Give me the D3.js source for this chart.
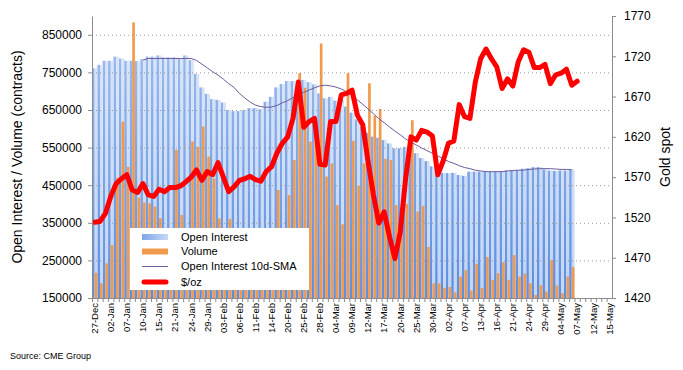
<!DOCTYPE html>
<html>

<head>
    <meta charset="utf-8" />
    <title>Gold open interest, volume and spot</title>
    <script src="https://cdn.jsdelivr.net/npm/d3@7/dist/d3.min.js" charset="utf-8"></script>

    <style type="text/css">
        body {
            margin: 0;
            background: #fff;
        }

        #chart svg {
            font-family: "Liberation Sans", Arial, sans-serif;
        }

        #chart .axis path,
        #chart .axis line {
            stroke: #8c8c8c;
        }

        #chart .grid line {
            stroke: #9a9a9a;
            stroke-dasharray: 1, 3;
        }

        #chart .sma {
            fill: none;
            stroke: #6d5c9e;
            stroke-width: 1px;
        }

        #chart .price {
            fill: none;
            stroke: #ff0000;
            stroke-width: 5px;
            stroke-linejoin: round;
            stroke-linecap: round;
        }
    </style>
</head>

<body>

    <div id="chart"></div>

    <script>
        // Trading days on the x axis:
        var dates = ["27-Dec", "30-Dec", "31-Dec",
            "02-Jan", "03-Jan", "06-Jan", "07-Jan", "08-Jan", "09-Jan", "10-Jan", "13-Jan", "14-Jan", "15-Jan",
            "16-Jan", "17-Jan", "21-Jan", "22-Jan", "23-Jan", "24-Jan", "27-Jan", "28-Jan", "29-Jan", "30-Jan", "31-Jan",
            "03-Feb", "04-Feb", "05-Feb", "06-Feb", "07-Feb", "10-Feb", "11-Feb", "12-Feb", "13-Feb", "14-Feb",
            "18-Feb", "19-Feb", "20-Feb", "21-Feb", "24-Feb", "25-Feb", "26-Feb", "27-Feb", "28-Feb",
            "02-Mar", "03-Mar", "04-Mar", "05-Mar", "06-Mar", "09-Mar", "10-Mar", "11-Mar", "12-Mar", "13-Mar",
            "16-Mar", "17-Mar", "18-Mar", "19-Mar", "20-Mar", "23-Mar", "24-Mar", "25-Mar", "26-Mar", "27-Mar",
            "30-Mar", "31-Mar", "01-Apr", "02-Apr", "03-Apr", "06-Apr", "07-Apr", "08-Apr", "09-Apr",
            "13-Apr", "14-Apr", "15-Apr", "16-Apr", "17-Apr", "20-Apr", "21-Apr", "22-Apr", "23-Apr", "24-Apr",
            "27-Apr", "28-Apr", "29-Apr", "30-Apr", "01-May", "04-May", "05-May", "06-May", "07-May",
            "08-May", "11-May", "12-May", "13-May", "14-May", "15-May"
        ]

        // Open interest (contracts), from 27-Dec:
        var openInterest = [761000, 770000, 781000, 781000, 792000, 787000, 781000, 781000, 780000, 785000,
            792000, 792000, 795000, 790000, 790000, 790000, 786000, 795000, 783000, 746000,
            710000, 693000, 679000, 677000, 670000, 650000, 647000, 647000, 650000, 655000,
            655000, 652000, 672000, 685000, 710000, 719000, 727000, 727000, 728000, 730000,
            724000, 718000, 694000, 681000, 685000, 675000, 677000, 659000, 643000, 625000,
            605000, 589000, 579000, 576000, 570000, 561000, 548000, 548000, 552000, 545000,
            535000, 522000, 514000, 500000, 488000, 483000, 482000, 483000, 477000, 475000,
            486000, 486000, 486000, 486000, 486000, 486000, 487000, 489000, 489000, 490000,
            494000, 495000, 498000, 498000, 492000, 489000, 488000, 489000, 489000, 492000
        ]

        // Volume (contracts), from 27-Dec:
        var volume = [217000, 189000, 242000, 291000, 470000, 619000, 499000, 883000, 417000, 404000,
            402000, 393000, 362000, 330000, 300000, 544000, 371000, 300000, 566000, 552000,
            606000, 526000, 468000, 362000, 310000, 360000, 290000, 280000, 300000, 270000,
            290000, 300000, 280000, 320000, 437000, 320000, 424000, 517000, 748000, 709000,
            566000, 619000, 827000, 473000, 508000, 397000, 346000, 748000, 568000, 449000,
            508000, 721000, 635000, 653000, 520000, 517000, 397000, 330000, 400000, 623000,
            380000, 395000, 286000, 189000, 189000, 177000, 179000, 165000, 207000, 224000,
            170000, 241000, 177000, 259000, 198000, 216000, 245000, 198000, 264000, 207000,
            215000, 189000, 158000, 184000, 167000, 251000, 183000, 163000, 207000, 232000
        ]

        // Open interest 10d-SMA, from 09-Jan (10th day):
        var smaStart = 9
        var sma = [783000, 787000, 787000, 787000, 787000, 787000, 787000, 787000, 787000, 787000,
            782000, 772000, 762000, 752000, 743000, 732000, 720000, 710000, 694000, 682000,
            671000, 663000, 659000, 657000, 658000, 662000, 669000, 675000, 683000, 691000,
            697000, 703000, 709000, 714000, 716000, 714000, 711000, 706000, 698000, 689000,
            677000, 665000, 653000, 640000, 627000, 616000, 605000, 594000, 584000, 573000,
            564000, 557000, 549000, 542000, 535000, 528000, 520000, 513000, 508000, 502000,
            497000, 494000, 490000, 488000, 486000, 486000, 486000, 486000, 488000, 489000,
            490000, 490000, 492000, 493000, 494000, 494000, 494000, 493000, 492000, 492000, 491000
        ]

        // Gold spot ($/oz), from 27-Dec:
        var goldSpot = [1514, 1515, 1525, 1546, 1562, 1568, 1573, 1554, 1551, 1562,
            1548, 1546, 1555, 1552, 1557, 1557, 1559, 1564, 1570, 1579,
            1566, 1577, 1573, 1588, 1570, 1552, 1558, 1566, 1568, 1571,
            1567, 1565, 1577, 1583, 1600, 1612, 1620, 1643, 1688, 1632,
            1639, 1643, 1586, 1585, 1639, 1639, 1672, 1674, 1678, 1647,
            1635, 1589, 1548, 1513, 1527, 1496, 1469, 1502, 1568, 1620,
            1616, 1628, 1626, 1621, 1573, 1590, 1612, 1615, 1660, 1645,
            1643, 1688, 1717, 1729, 1717, 1707, 1680, 1692, 1683, 1713,
            1728, 1725, 1706, 1706, 1710, 1686, 1697, 1699, 1704, 1684, 1689
        ]

        // Tick values:
        var leftTicks = [150000, 250000, 350000, 450000, 550000, 650000, 750000, 850000]
        var rightTicks = [1420, 1470, 1520, 1570, 1620, 1670, 1720, 1770]

        // Legend entries:
        var legendItems = ["Open Interest", "Volume", "Open Interest 10d-SMA", "$/oz"]

        // Dimensions:
        var margin = {
                top: 16,
                right: 71,
                bottom: 72,
                left: 92
            },
            totalWidth = 683,
            totalHeight = 370,
            width = totalWidth - margin.left - margin.right,
            height = totalHeight - margin.top - margin.bottom

        // Scales:
        var xScale = d3.scaleBand()
            .domain(dates)
            .range([0, width])
            .padding(0)

        var yLeft = d3.scaleLinear()
            .domain([150000, 900000])
            .range([height, 0])

        var yRight = d3.scaleLinear()
            .domain([1420, 1770])
            .range([height, 0])

        var bw = xScale.bandwidth()

        var svg = d3.select("#chart")
            .append("svg")
            .attr("width", totalWidth)
            .attr("height", totalHeight)

        // Gradients for the open interest columns:
        var defs = svg.append("defs")

        function vGrad(id, top, bottom) {
            var g = defs.append("linearGradient")
                .attr("id", id)
                .attr("gradientUnits", "userSpaceOnUse")
                .attr("x1", 0).attr("y1", 0)
                .attr("x2", 0).attr("y2", height)
            g.append("stop").attr("offset", "0%").attr("stop-color", top)
            g.append("stop").attr("offset", "100%").attr("stop-color", bottom)
        }
        vGrad("oiDark", "#a3c0f0", "#5d8ee0")
        vGrad("oiLight", "#dde8f8", "#c0d5f4")

        var swatchGrad = defs.append("linearGradient").attr("id", "oiSwatch")
        swatchGrad.append("stop").attr("offset", "0%").attr("stop-color", "#7fa6e6")
        swatchGrad.append("stop").attr("offset", "100%").attr("stop-color", "#c6d9f6")

        var chart = svg.append("g")
            .attr("transform", "translate(" + margin.left + "," + margin.top + ")")

        var oiData = openInterest.map(function(v, i) {
            return { date: dates[i], value: v }
        })
        var volData = volume.map(function(v, i) {
            return { date: dates[i], value: v }
        })

        // Open interest columns (dark stripe + light stripe):
        chart.append("g").selectAll("rect")
            .data(oiData)
            .enter().append("rect")
            .attr("x", function(d) { return xScale(d.date) })
            .attr("width", bw / 2)
            .attr("y", function(d) { return yLeft(d.value) })
            .attr("height", function(d) { return height - yLeft(d.value) })
            .attr("fill", "url(#oiDark)")

        chart.append("g").selectAll("rect")
            .data(oiData)
            .enter().append("rect")
            .attr("x", function(d) { return xScale(d.date) + bw / 2 })
            .attr("width", bw / 2)
            .attr("y", function(d) { return yLeft(d.value) })
            .attr("height", function(d) { return height - yLeft(d.value) })
            .attr("fill", "url(#oiLight)")

        // Volume columns:
        chart.append("g").selectAll("rect")
            .data(volData)
            .enter().append("rect")
            .attr("x", function(d) { return xScale(d.date) + bw / 2 })
            .attr("width", bw / 2)
            .attr("y", function(d) { return yLeft(d.value) })
            .attr("height", function(d) { return height - yLeft(d.value) })
            .attr("fill", "#f19a4d")

        // Dotted gridlines:
        chart.append("g")
            .attr("class", "grid")
            .selectAll("line")
            .data(leftTicks.slice(1))
            .enter().append("line")
            .attr("x1", 0)
            .attr("x2", width)
            .attr("y1", function(d) { return yLeft(d) + 0.5 })
            .attr("y2", function(d) { return yLeft(d) + 0.5 })

        // SMA line:
        var smaLine = d3.line()
            .x(function(d, i) { return xScale(dates[i + smaStart]) + bw / 2 })
            .y(function(d) { return yLeft(d) })

        chart.append("path")
            .datum(sma)
            .attr("class", "sma")
            .attr("d", smaLine)

        // Gold spot line:
        var priceLine = d3.line()
            .x(function(d, i) { return xScale(dates[i]) + bw / 2 })
            .y(function(d) { return yRight(d) })

        chart.append("path")
            .datum(goldSpot)
            .attr("class", "price")
            .attr("d", priceLine)

        // Axes:
        var axisLeft = chart.append("g")
            .attr("class", "axis")
            .call(d3.axisLeft(yLeft).tickValues(leftTicks).tickSize(4).tickSizeOuter(0).tickFormat(d3.format("d")))
        axisLeft.selectAll("text")
            .attr("x", -10)
            .style("font-size", "12px")
            .style("fill", "#000")

        var axisRight = chart.append("g")
            .attr("class", "axis")
            .attr("transform", "translate(" + width + ",0)")
            .call(d3.axisRight(yRight).tickValues(rightTicks).tickSize(4).tickSizeOuter(0).tickFormat(d3.format("d")))
        axisRight.selectAll("text")
            .attr("x", 12)
            .style("font-size", "12px")
            .style("fill", "#000")

        var axisBottom = chart.append("g")
            .attr("class", "axis")
            .attr("transform", "translate(0," + height + ")")
            .call(d3.axisBottom(xScale)
                .tickValues(dates.filter(function(d, i) { return i % 3 === 0 }))
                .tickSize(0)
                .tickSizeOuter(0))
        axisBottom.selectAll("text")
            .attr("transform", "rotate(-90)")
            .attr("x", -5)
            .attr("y", 0)
            .attr("dy", "0.35em")
            .style("text-anchor", "end")
            .style("font-size", "9.5px")
            .style("fill", "#000")

        // Small ticks at every category boundary:
        axisBottom.selectAll(".minor")
            .data(dates)
            .enter().append("line")
            .attr("class", "minor")
            .attr("x1", function(d) { return xScale(d) + 0.5 })
            .attr("x2", function(d) { return xScale(d) + 0.5 })
            .attr("y1", 0)
            .attr("y2", 4)

        // Axis titles:
        svg.append("text")
            .attr("transform", "translate(22," + (margin.top + height / 2) + ") rotate(-90)")
            .style("text-anchor", "middle")
            .style("font-size", "14px")
            .text("Open Interest / Volume (contracts)")

        svg.append("text")
            .attr("transform", "translate(670," + (margin.top + height / 2) + ") rotate(-90)")
            .style("text-anchor", "middle")
            .style("font-size", "14px")
            .text("Gold spot")

        svg.append("text")
            .attr("x", 10)
            .attr("y", 359)
            .style("font-size", "9px")
            .text("Source: CME Group")

        // Legend:
        var legend = svg.append("g")
            .attr("transform", "translate(130,228)")

        legend.append("rect")
            .attr("width", 179)
            .attr("height", 62)
            .attr("fill", "#fff")

        var rowY = [9, 23.5, 38.5, 54]

        legend.append("rect")
            .attr("x", 12).attr("y", rowY[0] - 3)
            .attr("width", 26).attr("height", 6)
            .attr("fill", "url(#oiSwatch)")
        legend.append("rect")
            .attr("x", 12).attr("y", rowY[1] - 3)
            .attr("width", 26).attr("height", 6)
            .attr("fill", "#f19a4d")
        legend.append("line")
            .attr("class", "sma")
            .attr("x1", 12).attr("x2", 38)
            .attr("y1", rowY[2]).attr("y2", rowY[2])
        legend.append("line")
            .attr("class", "price")
            .attr("x1", 14).attr("x2", 36)
            .attr("y1", rowY[3]).attr("y2", rowY[3])

        legend.selectAll(".label")
            .data(legendItems)
            .enter().append("text")
            .attr("class", "label")
            .attr("x", 51)
            .attr("y", function(d, i) { return rowY[i] })
            .attr("dy", "0.35em")
            .style("font-size", "11px")
            .text(function(d) { return d })
    </script>

</body>

</html>
